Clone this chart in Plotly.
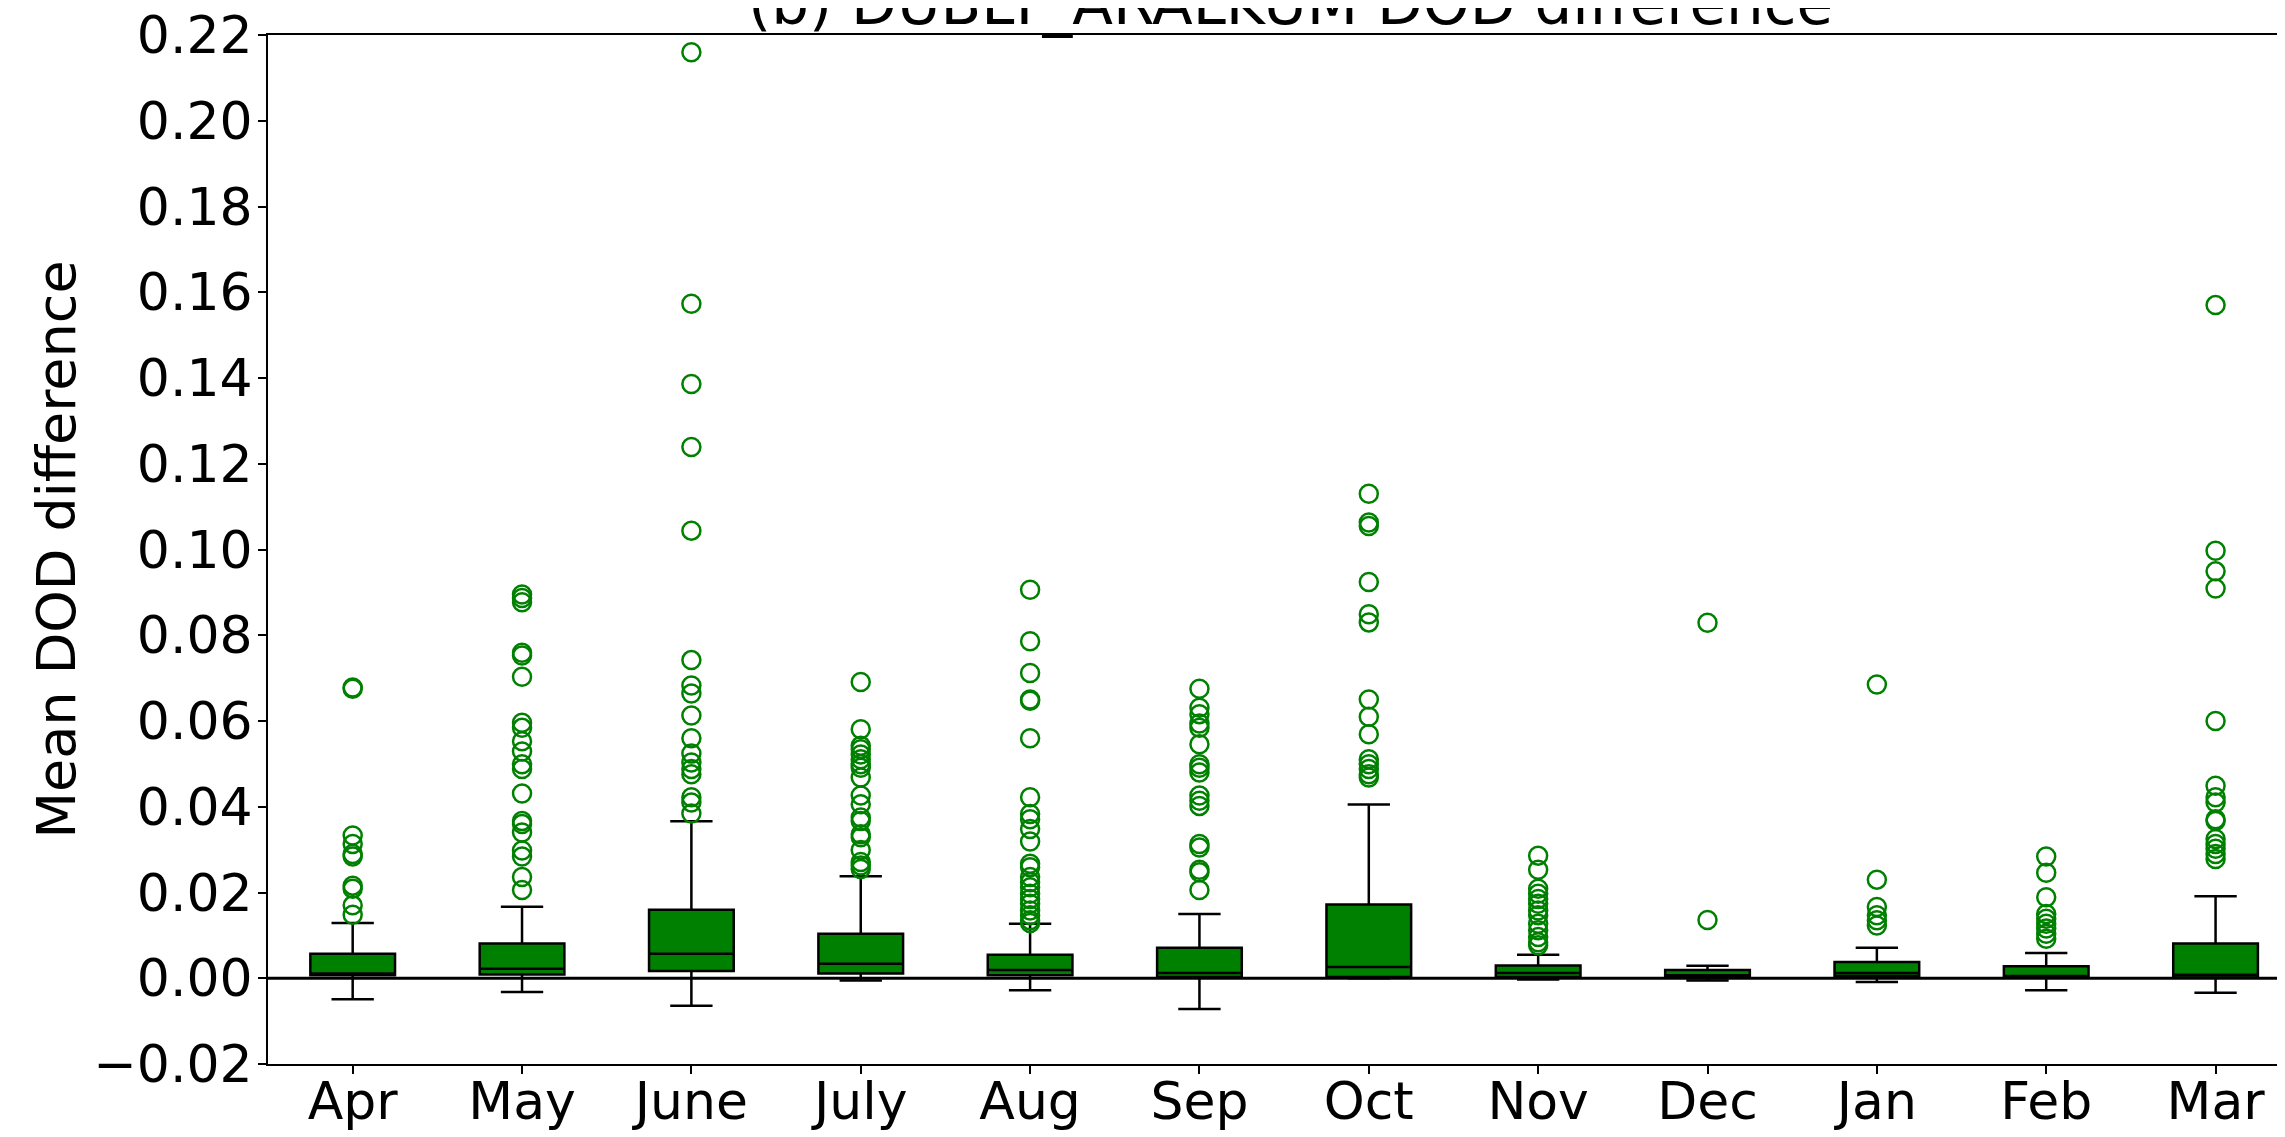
import plotly.graph_objects as go

months = ["Apr", "May", "June", "July", "Aug", "Sep", "Oct", "Nov", "Dec", "Jan", "Feb", "Mar"]

q1 = [0.0007, 0.0009, 0.0017, 0.0011, 0.0007, 0.0003, 0.0003, 0.0003, 0.0002, 0.0005, 0.0002, 0.0002]
median = [0.0011, 0.0022, 0.0057, 0.0034, 0.0019, 0.0012, 0.0026, 0.0012, 0.0007, 0.0012, 0.0005, 0.0008]
q3 = [0.0057, 0.0081, 0.0160, 0.0104, 0.0055, 0.0071, 0.0172, 0.0030, 0.0019, 0.0038, 0.0028, 0.0081]
upper_whisker = [0.0129, 0.0167, 0.0366, 0.0238, 0.0127, 0.0150, 0.0405, 0.0055, 0.0029, 0.0071, 0.0059, 0.0191]
lower_whisker = [-0.0049, -0.0032, -0.0064, -0.0005, -0.0028, -0.0072, 0.0000, -0.0003, -0.0005, -0.0009, -0.0028, -0.0034]

outliers = {
    "Apr": [0.0678, 0.0675, 0.0333, 0.0313, 0.0290, 0.0284, 0.0216, 0.0209, 0.0170, 0.0148],
    "May": [0.0895, 0.0887, 0.0877, 0.0759, 0.0753, 0.0703, 0.0596, 0.0584, 0.0553, 0.0529,
            0.0499, 0.0488, 0.0431, 0.0367, 0.0360, 0.0340, 0.0298, 0.0284, 0.0236, 0.0206],
    "June": [0.2160, 0.1573, 0.1386, 0.1239, 0.1044, 0.0742, 0.0683, 0.0664, 0.0613, 0.0560,
             0.0524, 0.0503, 0.0488, 0.0476, 0.0422, 0.0410, 0.0384],
    "July": [0.0691, 0.0581, 0.0542, 0.0534, 0.0522, 0.0511, 0.0499, 0.0491, 0.0468, 0.0426,
             0.0406, 0.0375, 0.0367, 0.0336, 0.0329, 0.0299, 0.0271, 0.0263, 0.0255],
    "Aug": [0.0906, 0.0786, 0.0712, 0.0650, 0.0647, 0.0560, 0.0422, 0.0383, 0.0371, 0.0348,
            0.0319, 0.0267, 0.0259, 0.0236, 0.0224, 0.0212, 0.0197, 0.0185, 0.0174, 0.0158,
            0.0147, 0.0135, 0.0129],
    "Sep": [0.0675, 0.0631, 0.0616, 0.0594, 0.0584, 0.0546, 0.0499, 0.0491, 0.0480, 0.0426,
            0.0414, 0.0402, 0.0313, 0.0305, 0.0253, 0.0247, 0.0206],
    "Oct": [0.1130, 0.1063, 0.1055, 0.0924, 0.0849, 0.0830, 0.0650, 0.0610, 0.0569, 0.0511,
            0.0499, 0.0488, 0.0476, 0.0468],
    "Nov": [0.0286, 0.0253, 0.0209, 0.0197, 0.0185, 0.0174, 0.0158, 0.0147, 0.0127, 0.0112,
            0.0096, 0.0084, 0.0077],
    "Dec": [0.0829, 0.0136],
    "Jan": [0.0685, 0.0230, 0.0166, 0.0147, 0.0135, 0.0123],
    "Feb": [0.0284, 0.0246, 0.0189, 0.0150, 0.0139, 0.0127, 0.0116, 0.0104, 0.0092],
    "Mar": [0.1570, 0.0997, 0.0949, 0.0909, 0.0600, 0.0449, 0.0422, 0.0410, 0.0371, 0.0367,
            0.0325, 0.0313, 0.0302, 0.0290, 0.0278],
}

y_ticks = [-0.02, 0.00, 0.02, 0.04, 0.06, 0.08, 0.10, 0.12, 0.14, 0.16, 0.18, 0.20, 0.22]

title_text = "(b) DUBLT_ARALKUM DOD difference"
y_label = "Mean DOD difference"

FONT = "DejaVu Sans"

fig = go.Figure()

fig.add_trace(go.Box(
    x=months,
    q1=q1, median=median, q3=q3,
    lowerfence=lower_whisker, upperfence=upper_whisker,
    boxpoints=False,
    fillcolor="#008000",
    line=dict(color="black", width=2.5),
    width=0.5,
    whiskerwidth=0.5,
    showlegend=False,
    hoverinfo="skip",
))

ox, oy = [], []
for m in months:
    for v in outliers[m]:
        ox.append(m)
        oy.append(v)

fig.add_trace(go.Scatter(
    x=ox, y=oy, mode="markers",
    marker=dict(symbol="circle-open", size=18, color="#008000", line=dict(width=2.5, color="#008000")),
    showlegend=False,
))

fig.add_shape(type="line", xref="paper", x0=0, x1=1, yref="y", y0=0, y1=0,
              line=dict(color="black", width=3), layer="above")

fig.add_annotation(text=title_text, xref="paper", yref="paper", x=0.507, y=0.995,
                   xanchor="center", yanchor="bottom", showarrow=False,
                   font=dict(family=FONT, size=59.5, color="black"))

fig.update_layout(
    width=2277, height=1129,
    margin=dict(l=260, r=0, t=27, b=73),
    paper_bgcolor="white", plot_bgcolor="white",
    font=dict(family=FONT, color="black", size=52),
)

fig.update_xaxes(
    type="category", categoryorder="array", categoryarray=months,
    range=[-0.5, 11.41], automargin=False,
    showline=True, linecolor="black", linewidth=2, mirror=True,
    ticks="outside", ticklen=8, tickwidth=2, tickcolor="black",
    tickfont=dict(family=FONT, size=52, color="black"),
    ticklabelstandoff=-17, ticklabeloverflow="allow",
    showgrid=False, zeroline=False,
)

fig.update_yaxes(
    range=[-0.02, 0.22], automargin=False,
    tickmode="array", tickvals=y_ticks, tickformat=".2f",
    showline=True, linecolor="black", linewidth=2, mirror=False,
    ticks="outside", ticklen=8, tickwidth=2, tickcolor="black",
    tickfont=dict(family=FONT, size=52, color="black"),
    ticklabelstandoff=-5, ticklabeloverflow="allow",
    showgrid=False, zeroline=False,
    title=dict(text=y_label, font=dict(family=FONT, size=54, color="black"), standoff=0),
)

fig.write_html("out.html")
